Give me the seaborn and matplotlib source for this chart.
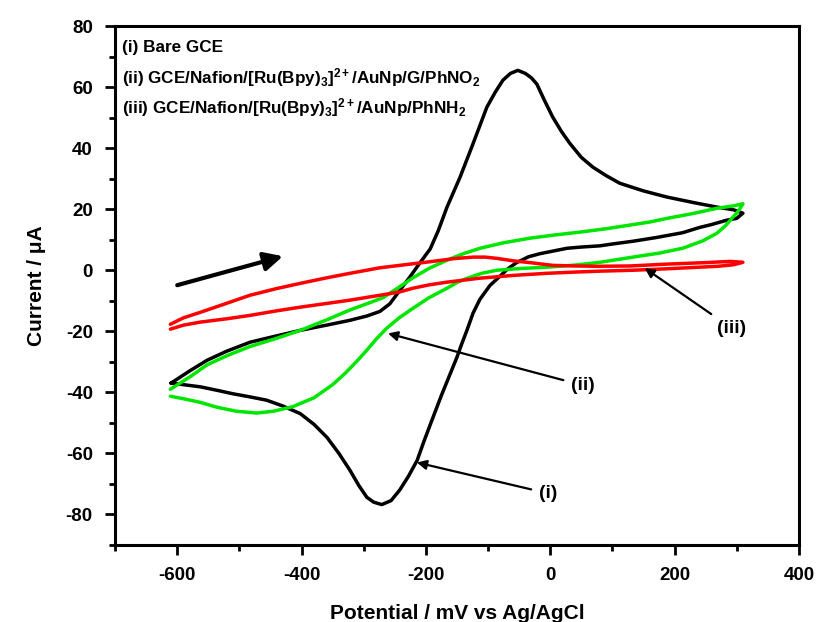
import numpy as np
import pandas as pd
import matplotlib
matplotlib.use("Agg")
import matplotlib.pyplot as plt
from matplotlib.ticker import MultipleLocator
import seaborn as sns

# curve (i) Bare GCE: forward scan then reverse scan
bare_x = [-610, -580, -552, -520, -483, -440, -402, -360, -322, -295, -274, -258, -242, -225, -210,
          -193, -180, -166, -145, -125, -102, -88, -76, -64, -52, -40, -30, -21.5, -10, 4, 18, 31.5,
          50, 68.5, 90, 112, 150, 187.5, 230, 268, 295, 310,
          300, 284, 260, 240, 213, 170, 133, 100, 80, 50, 27, 5, -17, -35, -54, -68, -81, -97, -113,
          -124, -134, -143, -150, -161, -175, -190, -203, -214, -228, -242, -256, -271, -284, -295,
          -308, -322, -340, -359, -380, -402, -430, -456, -483, -510, -537, -563, -590, -610]
bare_y = [-37, -33, -29.5, -26.5, -23.6, -21.5, -19.7, -18, -16.4, -15, -13.5, -11, -6.6, -2, 2.3,
          7, 13, 20.7, 30.5, 41, 53.4, 58.5, 62.3, 64.5, 65.5, 64.5, 63, 61, 56, 50.2, 45.5, 41.6,
          37, 33.8, 31, 28.5, 26, 24, 22.2, 20.7, 19.8, 18.7,
          17, 16.4, 15, 14, 12.3, 10.7, 9.5, 8.6, 8, 7.6, 7.2, 6.3, 5.4, 4.4, 2.5, 0.5, -2, -5, -9.5,
          -14, -19.7, -24.5, -28.5, -34, -41, -49, -56, -62.3, -67.5, -72, -75.5, -76.8, -76, -74.4,
          -70.5, -65.6, -60, -54.8, -50.5, -47, -44.5, -42.6, -41.5, -40.5, -39.3, -38.2, -37.5, -37]

# curve (ii) GCE/Nafion/[Ru(Bpy)3]2+/AuNp/G/PhNO2
no2_x = [-611, -580, -552, -520, -483, -440, -402, -360, -322, -295, -269, -245, -221, -195, -166,
         -140, -113, -75, -33, 5, 48, 90, 128, 160, 188, 230, 268, 295, 310,
         303, 294, 282, 268, 245, 213, 175, 133, 80, 40, -5, -45, -86, -110, -129, -148, -166, -195,
         -221, -243, -263, -280, -295, -311, -330, -350, -380, -414, -445, -472, -505, -536, -563,
         -590, -611]
no2_y = [-39, -35, -31, -28, -25, -22.3, -19.7, -16.3, -13, -11, -9, -5.8, -2.5, 0.6, 3.3,
         5.4, 7.2, 9, 10.5, 11.5, 12.5, 13.6, 14.8, 15.8, 17, 18.6, 20.3, 21.1, 21.8,
         19.5, 17.4, 14.6, 12.1, 9.6, 7.2, 5.6, 4.3, 2.6, 1.7, 1, 0.6, 0, -1, -2.3, -3.8, -5.9, -9,
         -12.5, -15.6, -19, -22.6, -26.2, -29.8, -33.8, -37.5, -41.8, -44.7, -46.2, -46.8, -46.2,
         -44.9, -43.3, -42.1, -41.3]

# curve (iii) GCE/Nafion/[Ru(Bpy)3]2+/AuNp/PhNH2
nh2_x = [-611, -590, -563, -520, -483, -440, -402, -360, -322, -274, -242, -193, -155, -124, -105,
         -86, -60, -33, 4, 40, 75, 128, 187, 250, 290, 310,
         295, 270, 240, 190, 133, 80, 40, -5, -60, -113, -166, -195, -221, -242, -274, -322, -360,
         -402, -440, -483, -520, -563, -590, -611]
nh2_y = [-17.7, -15.6, -13.8, -10.8, -8.2, -6, -4.3, -2.5, -1, 0.8, 1.6, 2.8, 3.8, 4.3, 4.3,
         3.9, 3.1, 2.5, 1.6, 1.4, 1.3, 1.4, 2, 2.5, 2.9, 2.6,
         1.8, 1.3, 1, 0.5, 0, -0.3, -0.6, -1, -1.7, -2.6, -3.9, -4.8, -5.9, -7.1, -8.2, -9.8, -10.9,
         -12.1, -13.3, -14.8, -15.9, -17, -18, -19.3]

legend_lines = ["(i) Bare GCE",
                r"(ii) GCE/Nafion/[Ru(Bpy)$_3$]$^{2+}$/AuNp/G/PhNO$_2$",
                r"(iii) GCE/Nafion/[Ru(Bpy)$_3$]$^{2+}$/AuNp/PhNH$_2$"]

sns.set_style("ticks")
plt.rcParams['font.family'] = ['Liberation Sans', 'DejaVu Sans']
plt.rcParams['font.weight'] = 'bold'
plt.rcParams['mathtext.fontset'] = 'custom'
plt.rcParams['mathtext.rm'] = 'Liberation Sans:bold'
plt.rcParams['mathtext.it'] = 'Liberation Sans:bold'
plt.rcParams['mathtext.bf'] = 'Liberation Sans:bold'
plt.rcParams['mathtext.default'] = 'rm'
plt.rcParams['axes.unicode_minus'] = False
for k in ['text.color', 'axes.labelcolor', 'xtick.color', 'ytick.color', 'axes.edgecolor']:
    plt.rcParams[k] = 'black'

fig = plt.figure(figsize=(8.16, 6.22), dpi=100)
ax = fig.add_axes([0.141, 0.124, 0.838, 0.834])

curves = [(bare_x, bare_y, "black"), (no2_x, no2_y, "#00e600"), (nh2_x, nh2_y, "#ff0000")]
for cx, cy, col in curves:
    df = pd.DataFrame({"E": cx, "I": cy})
    sns.lineplot(data=df, x="E", y="I", sort=False, estimator=None, color=col, lw=2.5, ax=ax)

ax.set_xlim(-700, 400)
ax.set_ylim(-90, 80)
ax.xaxis.set_major_locator(MultipleLocator(200))
ax.xaxis.set_minor_locator(MultipleLocator(100))
ax.yaxis.set_major_locator(MultipleLocator(20))
ax.yaxis.set_minor_locator(MultipleLocator(10))
ax.tick_params(which='major', direction='out', length=7, width=2, labelsize=13.5, pad=9)
ax.tick_params(which='minor', direction='out', length=4.5, width=2)
for s in ax.spines.values():
    s.set_linewidth(2.2)
for lab in ax.get_xticklabels() + ax.get_yticklabels():
    lab.set_fontweight('bold')

ax.set_xlabel("Potential / mV vs Ag/AgCl", fontsize=15, fontweight='bold', labelpad=14)
ax.set_ylabel("Current / \u03bcA", fontsize=15, fontweight='bold', labelpad=14)

for i, t in enumerate(legend_lines):
    ax.text(-689, 73 - i * 9.8, t, fontsize=12.3, fontweight='bold', va='center', ha='left')

# scan direction arrow
ax.annotate("", xy=(-430, 4.6), xytext=(-600, -4.9),
            arrowprops=dict(arrowstyle='-|>', color='black', lw=3, mutation_scale=28,
                            shrinkA=0, shrinkB=0))

labels = [("(i)", (-4, -73.1), (-214.5, -63)),
          ("(ii)", (52, -37.7), (-261, -20.7)),
          ("(iii)", (292, -19), (152, 0.7))]
for txt, tpos, head in labels:
    ax.annotate(txt, xy=head, xytext=tpos, fontsize=14, fontweight='bold',
                ha='center', va='center',
                arrowprops=dict(arrowstyle='-|>', color='black', lw=1.6, mutation_scale=14,
                                shrinkA=3, shrinkB=0))

fig.savefig("out.png", dpi=100)
